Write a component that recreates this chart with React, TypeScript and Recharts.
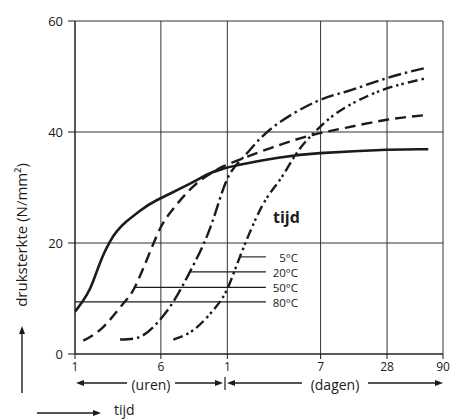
import React from 'react';
import { LineChart, Line, XAxis, YAxis, CartesianGrid, ReferenceLine } from 'recharts';

// time in hours (log axis), strength in N/mm²
const hours80 = [1, 1.19, 1.37, 1.57, 1.8, 2.08, 2.39, 2.94, 3.88, 5.5, 11.8, 22, 72, 166, 666, 1587];
const values80 = [7.6, 9.7, 11.8, 14.8, 17.8, 20.3, 22.1, 23.9, 25.8, 27.7, 31.0, 33.4, 35.4, 36.2, 36.8, 36.9];

const hours50 = [1.19, 1.81, 2.74, 3.62, 5.42, 7.25, 11.8, 17.9, 22, 35.9, 72, 144, 289, 666, 1587];
const values50 = [2.4, 4.9, 9.1, 12.7, 21.0, 25.4, 30.2, 32.8, 33.8, 35.5, 37.7, 39.5, 40.8, 42.2, 43.1];

const hours20 = [2.56, 3.88, 5.5, 7.77, 11.0, 15.6, 19.9, 25.4, 35.9, 62.5, 154, 289, 666, 1532];
const values20 = [2.6, 3.1, 5.5, 9.4, 14.8, 21.1, 27.1, 32.5, 36.1, 40.9, 45.5, 47.3, 49.7, 51.6];

const hours5 = [7.77, 11.8, 17.9, 23.7, 31.2, 49.1, 72, 102, 144, 234, 439, 764, 1532];
const values5 = [2.6, 4.3, 7.9, 11.5, 17.5, 26.5, 31.4, 36.2, 39.7, 43.4, 46.4, 48.2, 49.7];

const xTicks = [1, 6, 24, 168, 672, 2160];
const xTickLabels = ['1', '6', '1', '7', '28', '90'];
const yTicks = [0, 20, 40, 60];

const seriesLabels = ['5°C', '20°C', '50°C', '80°C'];
// leader lines: [start hour, value] for each label (5, 20, 50, 80 °C)
const leaderStartHours = [31.9, 11.2, 3.5, 1];
const leaderValues = [17.5, 14.8, 12.0, 9.4];
const leaderEndHour = 53.7;

const toData = (hs: number[], vs: number[]) => hs.map((h, i) => ({ h, v: vs[i] }));

const data80 = toData(hours80, values80);
const data50 = toData(hours50, values50);
const data20 = toData(hours20, values20);
const data5 = toData(hours5, values5);

const INK = '#1b1b1b';
const FONT = '"Open Sans", "Noto Sans", sans-serif';

const Arrow = ({ x1, y1, x2, y2 }: { x1: number; y1: number; x2: number; y2: number }) => {
  // arrow head at (x2, y2)
  const dx = x2 - x1;
  const dy = y2 - y1;
  const len = Math.sqrt(dx * dx + dy * dy);
  const ux = dx / len;
  const uy = dy / len;
  const hl = 8;
  const hw = 3;
  const bx = x2 - ux * hl;
  const by = y2 - uy * hl;
  const p = `${x2},${y2} ${bx - uy * hw},${by + ux * hw} ${bx + uy * hw},${by - ux * hw}`;
  return (
    <g>
      <line x1={x1} y1={y1} x2={bx + ux * 1} y2={by + uy * 1} stroke={INK} strokeWidth={1.4} />
      <polygon points={p} fill={INK} />
    </g>
  );
};

const Overlay = () => (
  <svg
    width={450}
    height={420}
    style={{ position: 'absolute', left: 0, top: 0, pointerEvents: 'none' }}
    fontFamily={FONT}
  >
    {/* y axis title + arrow */}
    <text
      transform="translate(21,235) rotate(-90)"
      textAnchor="middle"
      dominantBaseline="central"
      fontSize={15}
      fill={INK}
    >
      druksterkte (N/mm²)
    </text>
    <Arrow x1={22} y1={393} x2={22} y2={326} />

    {/* (uren) */}
    <text x={151} y={384} textAnchor="middle" dominantBaseline="central" fontSize={14} fill={INK}>
      (uren)
    </text>
    <Arrow x1={127} y1={383} x2={76} y2={383} />
    <Arrow x1={175} y1={383} x2={223} y2={383} />
    <line x1={225} y1={377} x2={225} y2={390} stroke={INK} strokeWidth={1.2} />

    {/* (dagen) */}
    <text x={335} y={384} textAnchor="middle" dominantBaseline="central" fontSize={14} fill={INK}>
      (dagen)
    </text>
    <Arrow x1={302} y1={383} x2={227} y2={383} />
    <Arrow x1={368} y1={383} x2={443} y2={383} />

    {/* bottom tijd */}
    <Arrow x1={37} y1={413} x2={101} y2={413} />
    <text x={114} y={415} fontSize={14} fill={INK}>
      tijd
    </text>

    {/* legend block */}
    <text x={273} y={223} fontSize={16} fontWeight="bold" fill={INK}>
      tijd
    </text>
    {seriesLabels.map((s, i) => (
      <text
        key={s}
        x={298}
        y={[257, 272, 287, 302][i]}
        textAnchor="end"
        dominantBaseline="central"
        fontSize={11.5}
        fill={INK}
      >
        {s}
      </text>
    ))}
  </svg>
);

export default function App() {
  return (
    <div style={{ position: 'absolute', left: 0, top: 0, width: 450, height: 420, background: '#fff' }}>
      <LineChart
        width={450}
        height={420}
        margin={{ top: 21, right: 7, left: 35, bottom: 36 }}
      >
        <CartesianGrid stroke="#333" strokeWidth={1} />
        <XAxis
          dataKey="h"
          type="number"
          scale="log"
          domain={[1, 2160]}
          ticks={xTicks}
          tickFormatter={(v: number) => xTickLabels[xTicks.indexOf(v)] ?? ''}
          allowDataOverflow
          height={30}
          tickSize={5}
          tickMargin={3}
          stroke={INK}
          tick={{ fill: INK, fontSize: 12, fontFamily: FONT }}
        />
        <YAxis
          type="number"
          domain={[0, 60]}
          ticks={yTicks}
          width={40}
          tickSize={7}
          tickMargin={5}
          stroke={INK}
          tick={{ fill: INK, fontSize: 13, fontFamily: FONT }}
        />
        {leaderStartHours.map((h, i) => (
          <ReferenceLine
            key={i}
            segment={[
              { x: h, y: leaderValues[i] },
              { x: leaderEndHour, y: leaderValues[i] },
            ]}
            stroke={INK}
            strokeWidth={1.1}
            ifOverflow="visible"
          />
        ))}
        <Line
          data={data80}
          dataKey="v"
          type="natural"
          stroke={INK}
          strokeWidth={2.6}
          dot={false}
          isAnimationActive={false}
        />
        <Line
          data={data50}
          dataKey="v"
          type="natural"
          stroke={INK}
          strokeWidth={2.4}
          strokeDasharray="11 6"
          dot={false}
          isAnimationActive={false}
        />
        <Line
          data={data20}
          dataKey="v"
          type="natural"
          stroke={INK}
          strokeWidth={2.4}
          strokeDasharray="13 4 2.5 4"
          dot={false}
          isAnimationActive={false}
        />
        <Line
          data={data5}
          dataKey="v"
          type="natural"
          stroke={INK}
          strokeWidth={2.4}
          strokeDasharray="10 4 2.5 3 2.5 4"
          dot={false}
          isAnimationActive={false}
        />
      </LineChart>
      <Overlay />
    </div>
  );
}
